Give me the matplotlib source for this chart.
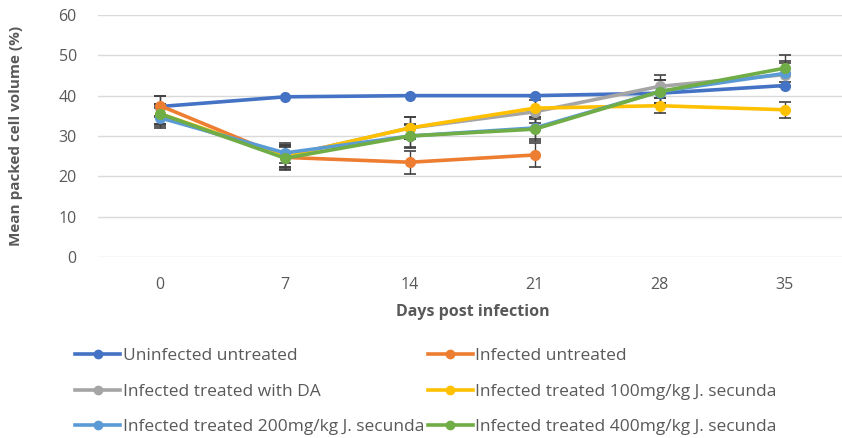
import numpy as np
import matplotlib

matplotlib.use("Agg")
import matplotlib.pyplot as plt  # noqa: E402
from matplotlib.lines import Line2D  # noqa: E402

DAYS = ["0", "7", "14", "21", "28", "35"]
SERIES = [
    "Uninfected untreated",
    "Infected untreated",
    "Infected treated with DA",
    "Infected treated 100mg/kg J. secunda",
    "Infected treated 200mg/kg J. secunda",
    "Infected treated 400mg/kg J. secunda",
]

uninfected = [37.3, 39.7, 40.0, 40.0, 40.6, 42.5]
infected = [37.5, 24.7, 23.5, 25.3, np.nan, np.nan]
da = [35.0, 25.0, 32.0, 36.0, 42.3, 45.2]
js100 = [35.5, 25.0, 32.0, 36.9, 37.5, 36.5]
js200 = [34.5, 25.8, 30.0, 32.0, 41.0, 45.5]
js400 = [35.5, 24.5, 30.0, 31.7, 41.0, 46.8]

uninfected_err = [2.5, 0.0, 0.0, 0.0, 0.0, 0.0]
infected_err = [2.5, 2.8, 2.8, 3.0, np.nan, np.nan]
da_err = [2.5, 2.8, 2.8, 2.8, 2.8, 3.0]
js100_err = [2.5, 2.8, 2.8, 2.8, 1.8, 2.0]
js200_err = [2.5, 2.5, 2.8, 2.8, 2.8, 3.0]
js400_err = [2.5, 2.8, 3.0, 3.0, 2.8, 3.3]

COLORS = ["#4472C4", "#ED7D31", "#A5A5A5", "#FFC000", "#5B9BD5", "#70AD47"]
TEXT = "#595959"

plt.rcParams["font.family"] = ["Open Sans", "DejaVu Sans"]

fig = plt.figure(figsize=(8.42, 4.38), dpi=100)
ax = fig.add_axes([0.116, 0.413, 0.89, 0.553])

x = np.arange(len(DAYS))
values = [uninfected, infected, da, js100, js200, js400]
errors = [uninfected_err, infected_err, da_err, js100_err, js200_err, js400_err]
for vals, err, c in zip(values, errors, COLORS):
    ax.errorbar(x, vals, yerr=err, color=c, ecolor="#404040", elinewidth=1.0,
                capsize=4, capthick=1.2, lw=2.6, marker="o", ms=7, zorder=3)

ax.set_xlim(-0.5, len(DAYS) - 0.5)
ax.set_ylim(0, 60)
ax.set_yticks(range(0, 61, 10))
ax.set_xticks(x)
ax.set_xticklabels(DAYS)
ax.grid(axis="y", color="#D9D9D9", lw=1)
ax.set_axisbelow(True)
for s in ax.spines.values():
    s.set_visible(False)
ax.tick_params(length=0, colors=TEXT, labelsize=11.5)
ax.tick_params(axis="x", pad=14)
ax.tick_params(axis="y", pad=15)

ax.set_xlabel("Days post infection", fontsize=11.5, fontweight="bold", color=TEXT, labelpad=8)
ax.set_ylabel("Mean packed cell volume (%)", fontsize=11, fontweight="bold", color=TEXT)
ax.yaxis.set_label_coords(-0.1, 0.5)

# legend filled row by row, like the original
handles = [Line2D([], [], color=c, lw=2.6, marker="o", ms=6) for c in COLORS]
order = [0, 2, 4, 1, 3, 5]
leg = fig.legend([handles[i] for i in order], [SERIES[i] for i in order], ncol=2,
                 loc="upper left", bbox_to_anchor=(0.089, 0.205),
                 frameon=False, fontsize=12.5, labelspacing=1.1, columnspacing=0.2,
                 handlelength=2.6, handletextpad=0.15, borderaxespad=0, borderpad=0)
for t in leg.get_texts():
    t.set_color(TEXT)

fig.savefig("out.png", dpi=100)
